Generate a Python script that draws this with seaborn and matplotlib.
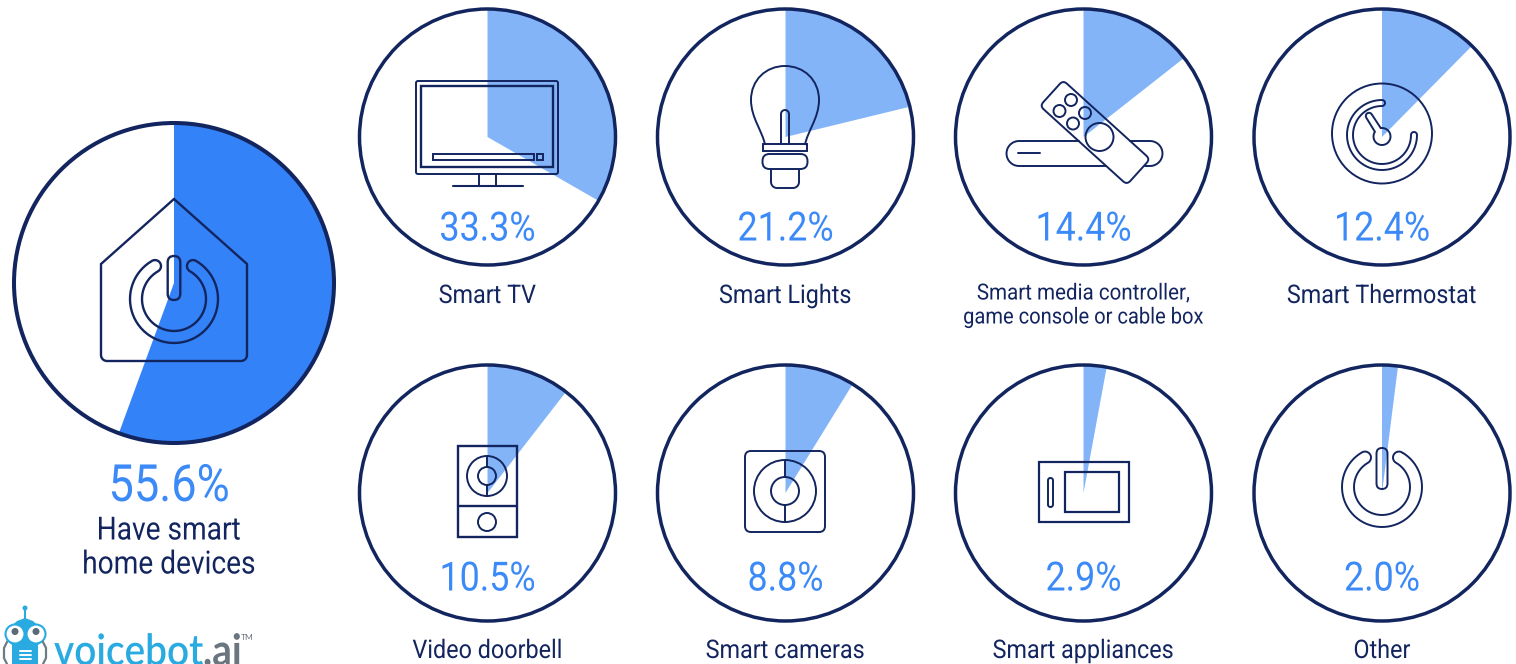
import numpy as np
import seaborn as sns
from matplotlib import patheffects
from matplotlib import pyplot as plt
from matplotlib.patches import Circle, FancyBboxPatch, Polygon, Rectangle
from matplotlib.patches import PathPatch
from matplotlib.path import Path
from matplotlib.transforms import Affine2D

W, H = 1516, 664

NAVY = "#12255f"
BLUE = "#3482f8"
LIGHT = "#84b4f8"
TEXT_BLUE = "#3b8af8"
LOGO_BLUE = "#29abe2"
LOGO_GREY = "#6a7580"

main_value = 55.6
main_label = ["Have smart", "home devices"]

categories = [
    "Smart TV",
    "Smart Lights",
    "Smart media controller,\ngame console or cable box",
    "Smart Thermostat",
    "Video doorbell",
    "Smart cameras",
    "Smart appliances",
    "Other",
]
values = [33.3, 21.2, 14.4, 12.4, 10.5, 8.8, 2.9, 2.0]

# layout, pixels
col_x = [487.5, 785.5, 1083.5, 1382]
row_y = [137, 493]
small_r = 128
main_c = (174, 283)
main_r = 160

sns.set_theme(style="white")
plt.rcParams["font.family"] = ["Roboto", "DejaVu Sans"]

fig = plt.figure(figsize=(W / 100, H / 100), dpi=100)


class Squeeze(patheffects.AbstractPathEffect):
    # no condensed font is installed, so narrow the glyphs around an anchor
    def __init__(self, anchor_x, sx):
        super().__init__()
        self.anchor_x = anchor_x
        self.sx = sx

    def draw_path(self, renderer, gc, tpath, affine, rgbFace=None):
        squeeze = Affine2D().translate(-self.anchor_x, 0).scale(self.sx, 1)
        squeeze = squeeze.translate(self.anchor_x, 0)
        renderer.draw_path(gc, tpath, affine + squeeze, rgbFace)


def draw_pie(cx, cy, r, value, color):
    pie_ax = fig.add_axes([(cx - r) / W, 1 - (cy + r) / H, 2 * r / W, 2 * r / H])
    pie_ax.pie(
        [value, 100 - value],
        colors=[color, "none"],
        startangle=90,
        counterclock=False,
        radius=1,
        wedgeprops={"linewidth": 0},
    )
    pie_ax.set_xlim(-1, 1)
    pie_ax.set_ylim(-1, 1)
    pie_ax.axis("off")


draw_pie(main_c[0], main_c[1], main_r, main_value, BLUE)
centers = [(x, y) for y in row_y for x in col_x]
for (cx, cy), val in zip(centers, values):
    draw_pie(cx, cy, small_r, val, LIGHT)

ax = fig.add_axes([0, 0, 1, 1])
ax.set_xlim(0, W)
ax.set_ylim(H, 0)
ax.axis("off")
ax.patch.set_alpha(0)


def label(x, y, s, size, color, sx=0.89, **kw):
    ax.text(
        x,
        y,
        s,
        color=color,
        fontsize=size,
        ha="center",
        va="center",
        path_effects=[Squeeze(x, sx)],
        **kw,
    )


def line(xs, ys, lw=1.4, color=NAVY, **kw):
    ax.plot(xs, ys, color=color, lw=lw, solid_capstyle="round", **kw)


def circle(x, y, r, lw=1.4):
    ax.add_patch(Circle((x, y), r, fill=False, ec=NAVY, lw=lw))


def rect(x0, y0, x1, y1, lw=1.4):
    ax.add_patch(Rectangle((x0, y0), x1 - x0, y1 - y0, fill=False, ec=NAVY, lw=lw))


def rrect(x0, y0, x1, y1, r, lw=1.4, transform=None):
    box = FancyBboxPatch(
        (x0 + r, y0 + r),
        x1 - x0 - 2 * r,
        y1 - y0 - 2 * r,
        boxstyle=f"round,pad={r}",
        fill=False,
        ec=NAVY,
        lw=lw,
    )
    if transform is not None:
        box.set_transform(transform)
    ax.add_patch(box)


def arc_pts(cx, cy, r, a0, a1, n=60):
    # angles in degrees, counted with y pointing up on the screen
    t = np.radians(np.linspace(a0, a1, n))
    return np.column_stack([cx + r * np.cos(t), cy - r * np.sin(t)])


def band(cx, cy, r_in, r_out, a0, a1, lw=1.4):
    # outline of a thick arc with round ends
    r_mid = (r_in + r_out) / 2
    cap = (r_out - r_in) / 2
    e1 = arc_pts(cx, cy, r_mid, a1, a1, 1)[0]
    e0 = arc_pts(cx, cy, r_mid, a0, a0, 1)[0]
    pts = np.vstack(
        [
            arc_pts(cx, cy, r_out, a0, a1),
            arc_pts(e1[0], e1[1], cap, a1, a1 + 180, 20),
            arc_pts(cx, cy, r_in, a1, a0),
            arc_pts(e0[0], e0[1], cap, a0 + 180, a0 + 360, 20),
        ]
    )
    ax.add_patch(Polygon(pts, closed=True, fill=False, ec=NAVY, lw=lw))


def power(cx, cy, r_in, r_out, top, bottom, half_w, lw=1.4):
    band(cx, cy, r_in, r_out, 120, 420, lw)
    rrect(cx - half_w, top, cx + half_w, bottom, half_w - 0.01, lw)


def house_icon():
    corner_l = arc_pts(107, 355, 6, 180, 270, 12)
    corner_r = arc_pts(241, 355, 6, 270, 360, 12)
    pts = np.vstack([[[101, 264], [174, 199], [247, 264]], corner_r[::-1], corner_l[::-1]])
    ax.add_patch(Polygon(pts, closed=True, fill=False, ec=NAVY, lw=1.7))
    power(174, 299, 32, 44, 256, 300, 6.3, 1.7)


def tv_icon():
    rrect(416, 81, 558, 174, 2)
    rect(421, 86, 553, 167, 1.7)
    rect(433, 154, 534, 160)
    rect(537, 154, 543, 160)
    rect(479, 174, 496, 186)
    line([453, 523], [186, 186], 1.5)


def bulb_icon():
    cx = 785
    verts = [
        (cx - 20, 145),
        (cx - 22, 132),
        (cx - 34, 118),
        (cx - 34, 100),
        (cx - 34, 80),
        (cx - 19, 66),
        (cx, 66),
        (cx + 19, 66),
        (cx + 34, 80),
        (cx + 34, 100),
        (cx + 34, 118),
        (cx + 22, 132),
        (cx + 20, 145),
    ]
    codes = [Path.MOVETO] + [Path.CURVE4] * 12
    ax.add_patch(PathPatch(Path(verts, codes), fill=False, ec=NAVY, lw=1.4))
    rect(cx - 22, 144, cx + 22, 151)
    rrect(cx - 22.5, 154, cx + 22.5, 169, 7)
    u_shape = np.vstack(
        [
            [[cx - 14, 170]],
            arc_pts(cx - 8, 182, 6, 180, 270, 10),
            arc_pts(cx + 8, 182, 6, 270, 360, 10),
            [[cx + 14, 170]],
        ]
    )
    line(u_shape[:, 0], u_shape[:, 1])
    fil = np.vstack([[[cx - 4, 144]], arc_pts(cx, 114, 4, 180, 0, 14), [[cx + 4, 144]]])
    line(fil[:, 0], fil[:, 1])


def remote_icon():
    # box behind the remote, broken where the remote covers it
    y0, y1 = 141, 166
    left = arc_pts(1019, 153.5, 12.5, 90, 270, 20)
    line(np.r_[1079, left[:, 0], 1106], np.r_[y0, left[:, 1], y1])
    right = arc_pts(1150, 153.5, 12.5, 90, -90, 20)
    line(np.r_[1130, right[:, 0], 1145], np.r_[y0, right[:, 1], y1])
    line([1018, 1040], [153, 153])
    turned = Affine2D().rotate_deg(42.2).translate(1095, 132.5) + ax.transData
    rrect(-58.7, -17.3, 58.7, 17.3, 5, transform=turned)
    for x, y in [(1071, 100), (1059.5, 111), (1085, 113), (1073, 123.5)]:
        circle(x, y, 6)
    circle(1099.5, 137, 14)


def thermostat_icon():
    cx, cy = 1382, 135
    circle(cx, 133.5, 50)
    band(cx, cy, 29, 35, 90, 360)
    tip = np.array([1369.0, 116.0])
    knob = np.array([cx, 136.5])
    u = (knob - tip) / np.linalg.norm(knob - tip)
    a = np.degrees(np.arctan2(u[1], -u[0]))
    ring = arc_pts(knob[0], knob[1], 8.5, a + 24, a + 336, 50)
    cap = arc_pts(tip[0], tip[1], 3.2, a - 90, a + 90, 12)
    ax.add_patch(Polygon(np.vstack([ring, cap]), closed=True, fill=False, ec=NAVY, lw=1.4))


def doorbell_icon():
    rect(457.5, 446, 516.5, 537, 1.7)
    line([457.5, 516.5], [506, 506], 1.7)
    circle(487, 476, 20)
    circle(487, 476, 9)
    line([487, 487], [456, 467])
    line([487, 487], [485, 496])
    circle(487, 522, 9)


def camera_icon():
    rrect(745, 451, 825, 532, 6)
    circle(785, 491, 31)
    circle(785, 491, 14)
    line([785, 785], [460, 477])
    line([785, 785], [505, 522])


def appliance_icon():
    rect(1039, 462, 1129, 522, 1.6)
    rect(1065, 472, 1119, 512, 1.6)
    rrect(1048, 478, 1053, 507, 2.4)


def other_icon():
    power(1382, 487, 28, 40, 448, 489, 5.5)


house_icon()
tv_icon()
bulb_icon()
remote_icon()
thermostat_icon()
doorbell_icon()
camera_icon()
appliance_icon()
other_icon()

# rings go on top of the pies and icons
ax.add_patch(Circle(main_c, main_r, fill=False, ec=NAVY, lw=2.9))
for cx, cy in centers:
    ax.add_patch(Circle((cx, cy), small_r, fill=False, ec=NAVY, lw=2.5))

label(169, 487, f"{main_value}%", 37, TEXT_BLUE, 0.88)
label(169, 531, main_label[0], 23, NAVY, 0.88)
label(169, 565, main_label[1], 23, NAVY, 0.88)

for (cx, cy), val, cat in zip(centers, values, categories):
    value_y = 229 if cy == row_y[0] else 579
    label(cx, value_y, f"{val}%", 29, TEXT_BLUE)
    if "\n" in cat:
        first, second = cat.split("\n")
        label(cx, cy + 157, first, 16, NAVY, 0.925)
        label(cx, cy + 181, second, 16, NAVY, 0.905)
    else:
        label(cx, cy + (159 if cy == row_y[0] else 158), cat, 18.5, NAVY, 0.91)


def logo():
    grey = "#6d7b86"
    # side arms
    line([7, 4, 4, 7], [642, 648, 658, 664], 1.6, grey)
    line([43, 46, 46, 43], [642, 648, 658, 664], 1.6, grey)
    line([25, 25], [609, 620], 1.5, LOGO_BLUE)
    ax.add_patch(Circle((25, 608), 2.5, fc=LOGO_BLUE, ec="none"))
    head = np.vstack(
        [
            [[25, 618], [33, 621], [44, 631], [44, 640], [38, 645], [38, 664]],
            [[12, 664], [12, 645], [6, 640], [6, 631], [17, 621]],
        ]
    )
    ax.add_patch(Polygon(head, closed=True, fc=LOGO_BLUE, ec="none"))
    for x in (15, 36):
        ax.add_patch(Circle((x, 634), 9.5, fc="#ffffff", ec=LOGO_BLUE, lw=1.5))
        ax.add_patch(Circle((x, 631.5), 3.5, fc="#5a6a78", ec="none"))
    for y in (651, 655, 659):
        line([20, 31], [y, y], 1.4, "#ffffff")
    logo_text = [
        (54, "voicebot", LOGO_BLUE, 0.9, "semibold"),
        (203, ".ai", LOGO_GREY, 0.9, "bold"),
    ]
    for x, s, color, sx, weight in logo_text:
        ax.text(
            x,
            665,
            s,
            color=color,
            fontsize=31,
            family="Lato",
            fontweight=weight,
            ha="left",
            va="baseline",
            path_effects=[Squeeze(x, sx)],
        )
    ax.text(241, 637, "TM", color=LOGO_GREY, fontsize=6, family="Lato", ha="left", va="center")


logo()

fig.savefig("out.png", dpi=100)
